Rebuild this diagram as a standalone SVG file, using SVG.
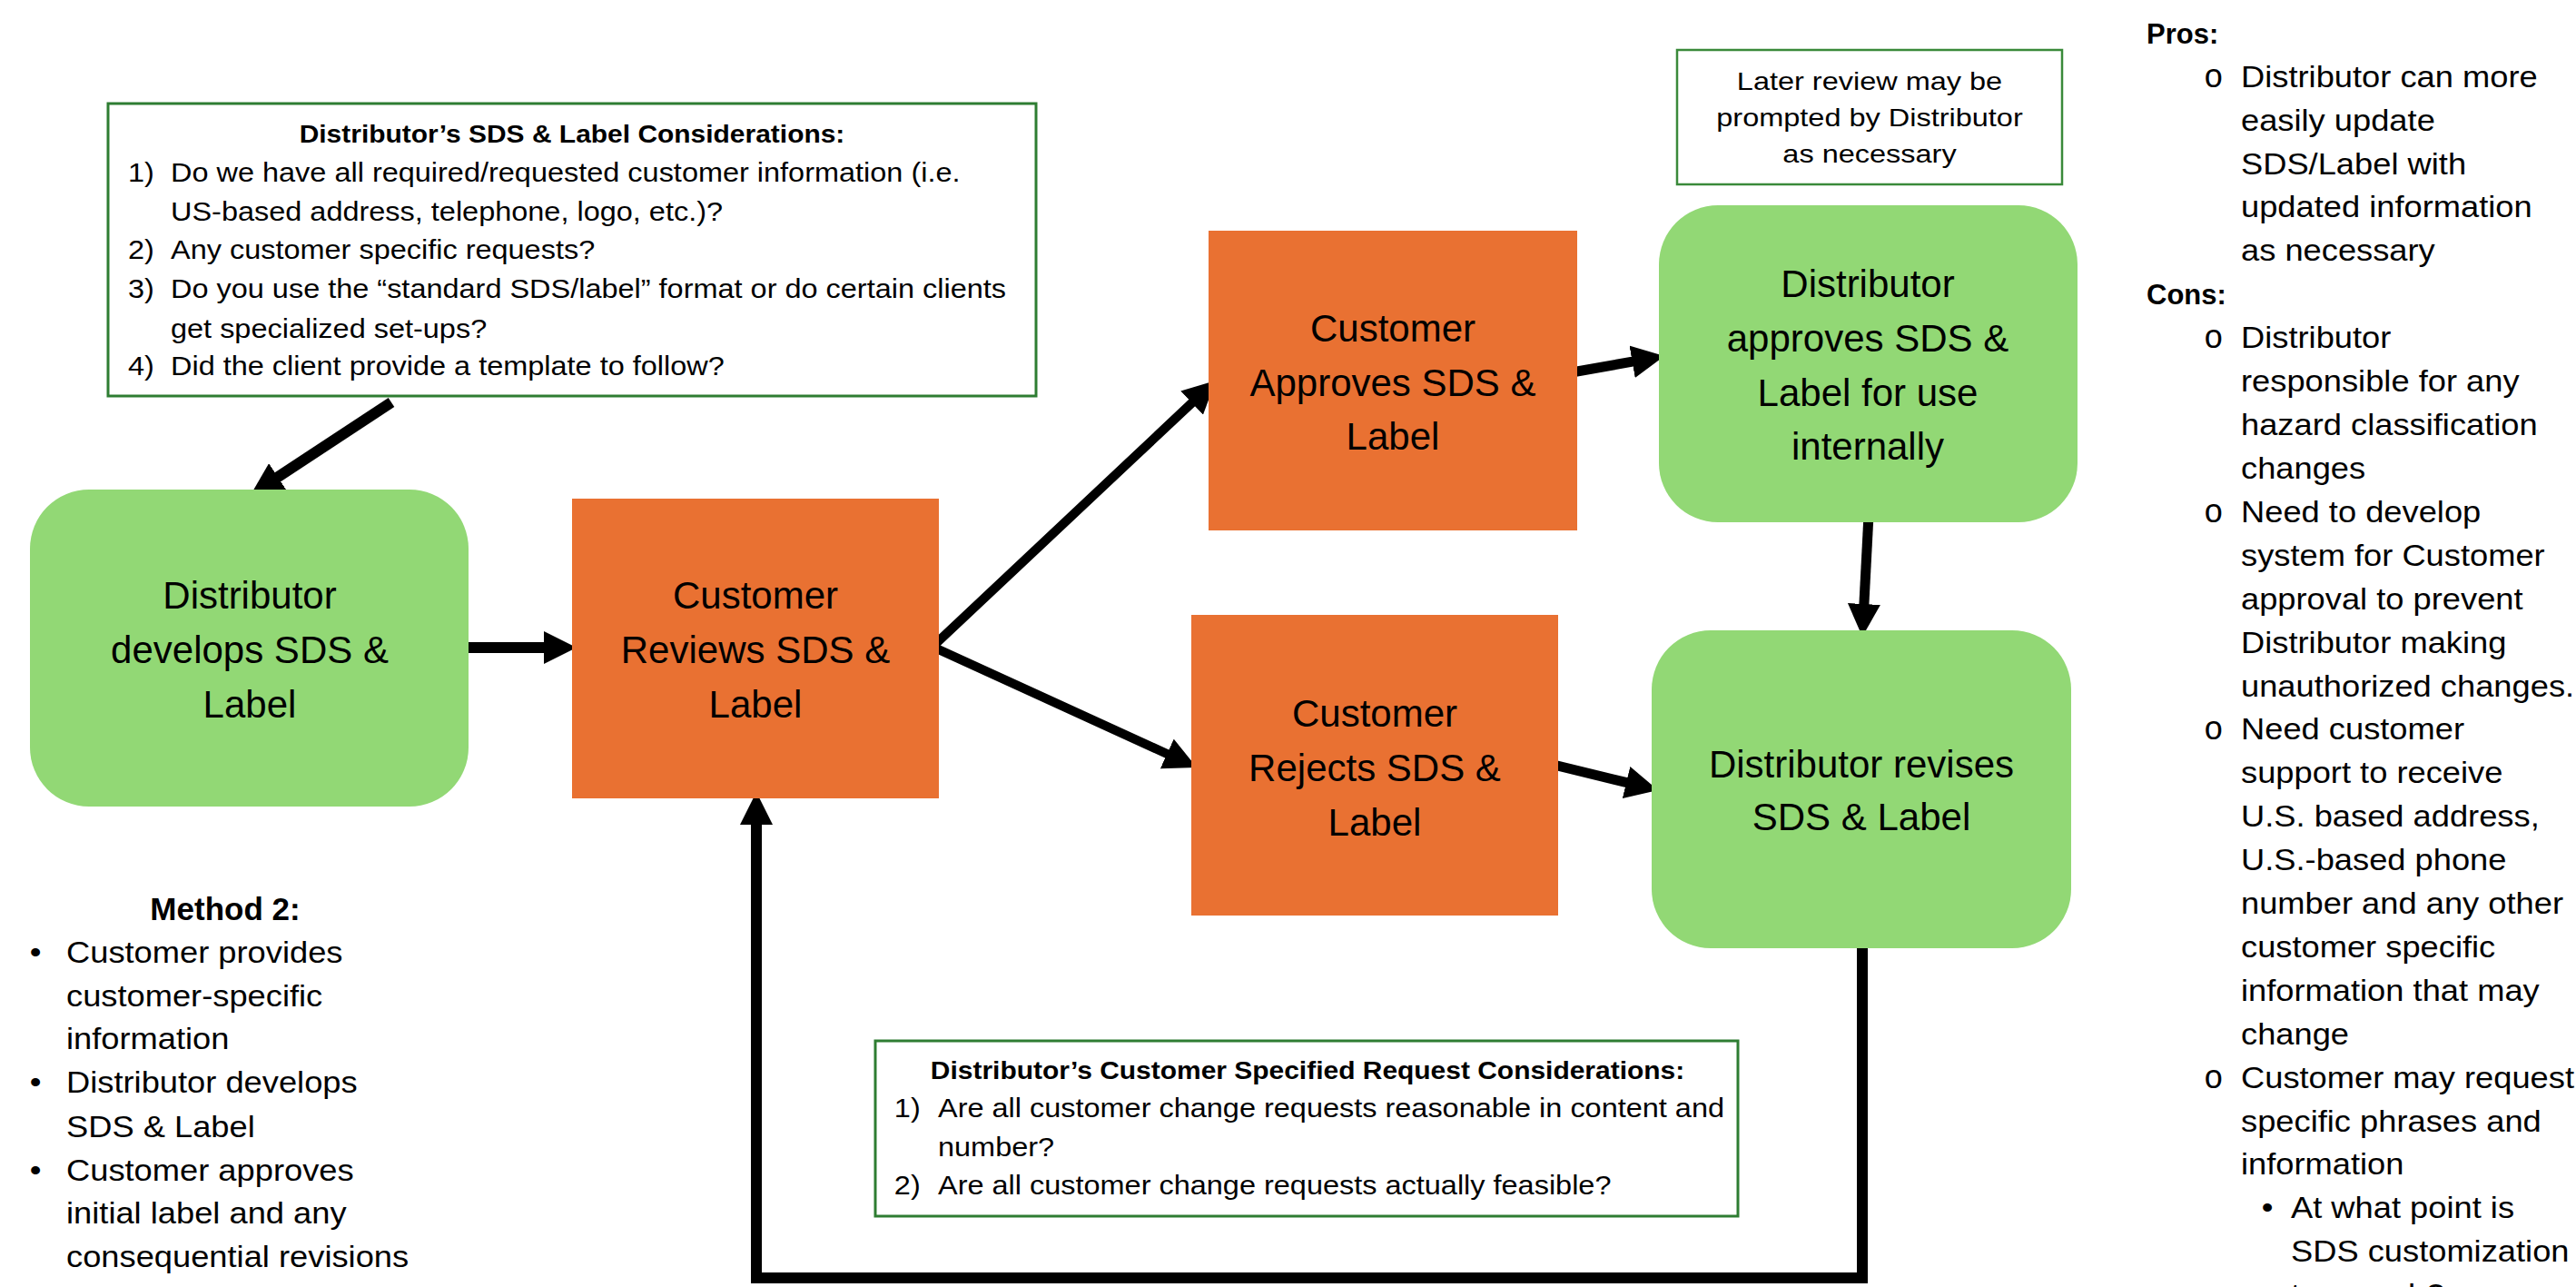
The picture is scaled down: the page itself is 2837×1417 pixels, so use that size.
<svg xmlns="http://www.w3.org/2000/svg" width="2837" height="1417" viewBox="0 0 2837 1417">
<defs>
<style>
text{font-family:"Liberation Sans",Arial,sans-serif;fill:#000}
.nt{font-size:42px;text-anchor:middle}
.green{fill:#92D875}
.orange{fill:#E97132}
.callout{fill:#fff;stroke:#2E7D32;stroke-width:3}
.callout2{fill:#fff;stroke:#3A8A3A;stroke-width:2.5}
.cb{font-size:29px}
.ct{font-size:28px;font-weight:bold;text-anchor:middle}
.lr{font-size:28px;text-anchor:middle}
.pt{font-size:33px}
.hd{font-size:31px;font-weight:bold}
.mt{font-size:35px;font-weight:bold;text-anchor:middle}
.bul{font-size:33px;text-anchor:middle}
.ring{font-family:"Liberation Mono","Courier New",monospace;font-size:36px}
.conn{fill:none;stroke:#000;stroke-linejoin:miter;stroke-miterlimit:10}
</style>
<marker id="ah" viewBox="0 0 36 36" refX="6" refY="18" markerWidth="36" markerHeight="36" markerUnits="userSpaceOnUse" orient="auto-start-reverse">
<path d="M0,0 L36,18 L0,36 z" fill="#000"/>
</marker>
</defs>
<rect width="2837" height="1417" fill="#fff"/>

<g id="connectors">
<path class="conn" stroke-width="12" d="M431,443 L301,528.5" marker-end="url(#ah)"/>
<path class="conn" stroke-width="12" d="M510,713 L605,713" marker-end="url(#ah)"/>
<path class="conn" stroke-width="10" d="M1317,439.5 L1027,712 L1290.7,832.5" marker-start="url(#ah)" marker-end="url(#ah)"/>
<path class="conn" stroke-width="11" d="M1731,410 L1803.5,397.2" marker-end="url(#ah)"/>
<path class="conn" stroke-width="11" d="M2058,567 L2052.6,671" marker-end="url(#ah)"/>
<path class="conn" stroke-width="11" d="M1711,842 L1796.9,862.9" marker-end="url(#ah)"/>
<path class="conn" stroke-width="12" d="M2051,1040 L2051,1407 L833,1407 L833,902" marker-end="url(#ah)"/>
</g>

<g id="node-develops">
<rect class="green" x="33" y="539" width="483" height="349" rx="65" ry="65"/>
<text class="nt" x="275" y="670">Distributor</text>
<text class="nt" x="275" y="730">develops SDS &amp;</text>
<text class="nt" x="275" y="790">Label</text>
</g>

<g id="node-reviews">
<rect class="orange" x="630" y="549" width="404" height="330"/>
<text class="nt" x="832" y="670">Customer</text>
<text class="nt" x="832" y="730">Reviews SDS &amp;</text>
<text class="nt" x="832" y="790">Label</text>
</g>

<g id="node-approves">
<rect class="orange" x="1331" y="254" width="406" height="330"/>
<text class="nt" x="1534" y="376">Customer</text>
<text class="nt" x="1534" y="436">Approves SDS &amp;</text>
<text class="nt" x="1534" y="495">Label</text>
</g>

<g id="node-dist-approves">
<rect class="green" x="1827" y="226" width="461" height="349" rx="65" ry="65"/>
<text class="nt" x="2057" y="327">Distributor</text>
<text class="nt" x="2057" y="387">approves SDS &amp;</text>
<text class="nt" x="2057" y="447">Label for use</text>
<text class="nt" x="2057" y="506">internally</text>
</g>

<g id="node-rejects">
<rect class="orange" x="1312" y="677" width="404" height="331"/>
<text class="nt" x="1514" y="800">Customer</text>
<text class="nt" x="1514" y="860">Rejects SDS &amp;</text>
<text class="nt" x="1514" y="920">Label</text>
</g>

<g id="node-revises">
<rect class="green" x="1819" y="694" width="462" height="350" rx="65" ry="65"/>
<text class="nt" x="2050" y="856">Distributor revises</text>
<text class="nt" x="2050" y="914">SDS &amp; Label</text>
</g>

<g id="callout-sds-label">
<rect class="callout" x="119" y="114" width="1022" height="322"/>
<text class="ct" transform="translate(630,157) scale(1.07,1)">Distributor’s SDS &amp; Label Considerations:</text>
<g transform="translate(188,0) scale(1.12,1)">
<text class="cb" x="-42" y="200">1)</text>
<text class="cb" x="0" y="200">Do we have all required/requested customer information (i.e.</text>
<text class="cb" x="0" y="243">US-based address, telephone, logo, etc.)?</text>
<text class="cb" x="-42" y="285">2)</text>
<text class="cb" x="0" y="285">Any customer specific requests?</text>
<text class="cb" x="-42" y="328">3)</text>
<text class="cb" x="0" y="328">Do you use the “standard SDS/label” format or do certain clients</text>
<text class="cb" x="0" y="372">get specialized set-ups?</text>
<text class="cb" x="-42" y="413">4)</text>
<text class="cb" x="0" y="413">Did the client provide a template to follow?</text>
</g>
</g>

<g id="callout-later-review">
<rect class="callout2" x="1847" y="55" width="424" height="148"/>
<g transform="translate(2059,0) scale(1.16,1)">
<text class="lr" x="0" y="99">Later review may be</text>
<text class="lr" x="0" y="139">prompted by Distributor</text>
<text class="lr" x="0" y="179">as necessary</text>
</g>
</g>

<g id="callout-customer-request">
<rect class="callout" x="964" y="1146" width="950" height="193"/>
<text class="ct" transform="translate(1440,1188) scale(1.07,1)">Distributor’s Customer Specified Request Considerations:</text>
<g transform="translate(1033,0) scale(1.12,1)">
<text class="cb" x="-43" y="1230">1)</text>
<text class="cb" x="0" y="1230">Are all customer change requests reasonable in content and</text>
<text class="cb" x="0" y="1273">number?</text>
<text class="cb" x="-43" y="1315">2)</text>
<text class="cb" x="0" y="1315">Are all customer change requests actually feasible?</text>
</g>
</g>

<g id="method-2">
<text class="mt" x="248" y="1013">Method 2:</text>
<g transform="translate(39,0) scale(1.1,1)">
<text class="bul" x="0" y="1060">•</text>
<text class="bul" x="0" y="1203">•</text>
<text class="bul" x="0" y="1300">•</text>
</g>
<g transform="translate(73,0) scale(1.1,1)">
<text class="pt" x="0" y="1060">Customer provides</text>
<text class="pt" x="0" y="1108">customer-specific</text>
<text class="pt" x="0" y="1155">information</text>
<text class="pt" x="0" y="1203">Distributor develops</text>
<text class="pt" x="0" y="1252">SDS &amp; Label</text>
<text class="pt" x="0" y="1300">Customer approves</text>
<text class="pt" x="0" y="1347">initial label and any</text>
<text class="pt" x="0" y="1395">consequential revisions</text>
</g>
</g>

<g id="pros-cons">
<text class="hd" x="2364" y="48">Pros:</text>
<text class="hd" x="2364" y="335">Cons:</text>
<text class="ring" x="2427" y="96">o</text>
<text class="ring" x="2427" y="383">o</text>
<text class="ring" x="2427" y="575">o</text>
<text class="ring" x="2427" y="814">o</text>
<text class="ring" x="2427" y="1198">o</text>
<g transform="translate(2497,0) scale(1.1,1)">
<text class="bul" x="0" y="1341">•</text>
</g>
<g transform="translate(2468,0) scale(1.1,1)">
<text class="pt" x="0" y="96">Distributor can more</text>
<text class="pt" x="0" y="144">easily update</text>
<text class="pt" x="0" y="192">SDS/Label with</text>
<text class="pt" x="0" y="239">updated information</text>
<text class="pt" x="0" y="287">as necessary</text>
<text class="pt" x="0" y="383">Distributor</text>
<text class="pt" x="0" y="431">responsible for any</text>
<text class="pt" x="0" y="479">hazard classification</text>
<text class="pt" x="0" y="527">changes</text>
<text class="pt" x="0" y="575">Need to develop</text>
<text class="pt" x="0" y="623">system for Customer</text>
<text class="pt" x="0" y="671">approval to prevent</text>
<text class="pt" x="0" y="719">Distributor making</text>
<text class="pt" x="0" y="767">unauthorized changes.</text>
<text class="pt" x="0" y="814">Need customer</text>
<text class="pt" x="0" y="862">support to receive</text>
<text class="pt" x="0" y="910">U.S. based address,</text>
<text class="pt" x="0" y="958">U.S.-based phone</text>
<text class="pt" x="0" y="1006">number and any other</text>
<text class="pt" x="0" y="1054">customer specific</text>
<text class="pt" x="0" y="1102">information that may</text>
<text class="pt" x="0" y="1150">change</text>
<text class="pt" x="0" y="1198">Customer may request</text>
<text class="pt" x="0" y="1246">specific phrases and</text>
<text class="pt" x="0" y="1293">information</text>
</g>
<g transform="translate(2523,0) scale(1.1,1)">
<text class="pt" x="0" y="1341">At what point is</text>
<text class="pt" x="0" y="1389">SDS customization</text>
<text class="pt" x="0" y="1437">too much?</text>
</g>
</g>
</svg>
